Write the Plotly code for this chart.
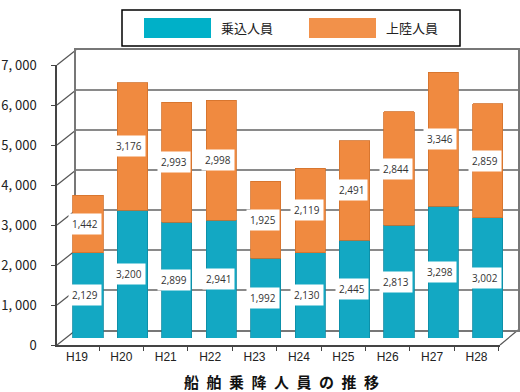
import plotly.graph_objects as go

categories = ["H19", "H20", "H21", "H22", "H23", "H24", "H25", "H26", "H27", "H28"]
boarding = [2129, 3200, 2899, 2941, 1992, 2130, 2445, 2813, 3298, 3002]
landing = [1442, 3176, 2993, 2998, 1925, 2119, 2491, 2844, 3346, 2859]
y_ticks = [0, 1000, 2000, 3000, 4000, 5000, 6000, 7000]
y_ticktext = ["0", "1, 000", "2, 000", "3, 000", "4, 000", "5, 000", "6, 000", "7, 000"]
series_names = ["乗込人員", "上陸人員"]
title_chars = ["船", "舶", "乗", "降", "人", "員", "の", "推", "移"]

W, H = 520, 392
TEAL = "#13A8C3"
ORANGE = "#F08A40"
GRID = "#8a8a8a"
JP = "Noto Sans CJK JP"


def fx(px):
    return px / W


def fy(py):
    return 1 - py / H


fig = go.Figure()

# bars (on the mid-depth axis pair x3/y3)
fig.add_trace(go.Bar(x=categories, y=boarding, name=series_names[0],
                     marker=dict(color=TEAL, line=dict(color="#0d8aa2", width=0.8)),
                     width=0.68, xaxis="x3", yaxis="y3", showlegend=False))
fig.add_trace(go.Bar(x=categories, y=landing, name=series_names[1],
                     marker=dict(color=ORANGE, line=dict(color="#d2702a", width=0.8)),
                     width=0.68, xaxis="x3", yaxis="y3", showlegend=False))

# invisible trace to make the front axes exist
fig.add_trace(go.Scatter(x=categories, y=[None] * len(categories), xaxis="x", yaxis="y",
                         showlegend=False, hoverinfo="skip"))
# invisible trace for the back wall
fig.add_trace(go.Scatter(x=categories, y=[None] * len(categories), xaxis="x2", yaxis="y2",
                         showlegend=False, hoverinfo="skip"))

annotations = []
for i, c in enumerate(categories):
    for base, val in ((0, boarding[i]), (boarding[i], landing[i])):
        annotations.append(dict(
            x=c, y=base + val / 2, xref="x3", yref="y3", text=f"{val:,}",
            showarrow=False, bgcolor="white", borderpad=3, xshift=-3,
            font=dict(size=10, color="#333333", family="Open Sans, Arial")))

# custom legend
annotations.append(dict(x=fx(219), y=fy(28), xref="paper", yref="paper", xanchor="left",
                        yanchor="middle", text=series_names[0], showarrow=False,
                        font=dict(size=13, color="#222", family=JP)))
annotations.append(dict(x=fx(384), y=fy(28), xref="paper", yref="paper", xanchor="left",
                        yanchor="middle", text=series_names[1], showarrow=False,
                        font=dict(size=13, color="#222", family=JP)))
# title
annotations.append(dict(x=fx(281), y=fy(381), xref="paper", yref="paper", xanchor="center",
                        yanchor="middle", text="<b>" + "\u2002".join(title_chars) + "</b>",
                        showarrow=False, font=dict(size=15, color="#111", family=JP)))

shapes = [
    dict(type="rect", xref="paper", yref="paper", x0=fx(122), x1=fx(460), y0=fy(10), y1=fy(46),
         line=dict(color="black", width=1.5), fillcolor="white"),
    dict(type="rect", xref="paper", yref="paper", x0=fx(144), x1=fx(211), y0=fy(18), y1=fy(38),
         line=dict(width=0), fillcolor="#00B0C8"),
    dict(type="rect", xref="paper", yref="paper", x0=fx(309), x1=fx(376), y0=fy(18), y1=fy(38),
         line=dict(width=0), fillcolor="#F2914A"),
]
# perspective connectors between front axis and back wall
for v in y_ticks:
    py_front = 345 - 40 * v / 1000
    shapes.append(dict(type="line", xref="paper", yref="paper", layer="below",
                       x0=fx(57), y0=fy(py_front), x1=fx(76), y1=fy(py_front - 15),
                       line=dict(color="#555", width=1.2)))
shapes.append(dict(type="line", xref="paper", yref="paper", layer="below",
                   x0=fx(500), y0=fy(345), x1=fx(518), y1=fy(330),
                   line=dict(color="#555", width=1.2)))

fig.update_layout(
    width=W, height=H,
    margin=dict(l=0, r=0, t=0, b=0),
    paper_bgcolor="white", plot_bgcolor="rgba(0,0,0,0)",
    barmode="stack", showlegend=False,
    annotations=annotations, shapes=shapes,
    xaxis=dict(domain=[fx(57), fx(500)], anchor="y", range=[-0.45, 9.53],
               showline=True, linecolor="#444", linewidth=1.5, showgrid=False,
               ticks="outside", tickson="boundaries", ticklen=4, tickcolor="#444",
               tickfont=dict(size=12, color="#222", family="Liberation Sans Narrow, Arial Narrow, Liberation Sans"),
               automargin=False, fixedrange=True),
    yaxis=dict(domain=[fy(345), fy(65)], anchor="x", range=[0, 7000],
               tickvals=y_ticks, ticktext=y_ticktext, showgrid=False,
               showline=True, linecolor="#444", linewidth=1.5, zeroline=False,
               ticks="outside", ticklen=4, tickcolor="#444", ticklabelstandoff=12,
               tickfont=dict(size=13, color="#222", family=JP), automargin=False),
    xaxis2=dict(domain=[fx(76), fx(518)], anchor="y2", range=[-0.5, 9.5],
                showticklabels=False, showgrid=False, showline=True, mirror=True,
                linecolor="#777", linewidth=1.5, ticks="", automargin=False),
    yaxis2=dict(domain=[fy(330), fy(50)], anchor="x2", range=[0, 7000],
                tickvals=y_ticks, showticklabels=False, showgrid=True,
                gridcolor=GRID, gridwidth=1.5, zeroline=False, showline=True,
                mirror=True, linecolor="#777", linewidth=1.5, ticks="", automargin=False),
    xaxis3=dict(domain=[fx(67), fx(510)], anchor="y3", range=[-0.473, 9.5],
                visible=False),
    yaxis3=dict(domain=[fy(338), fy(58)], anchor="x3", range=[0, 7000],
                visible=False),
)

fig.write_html("out.html")
